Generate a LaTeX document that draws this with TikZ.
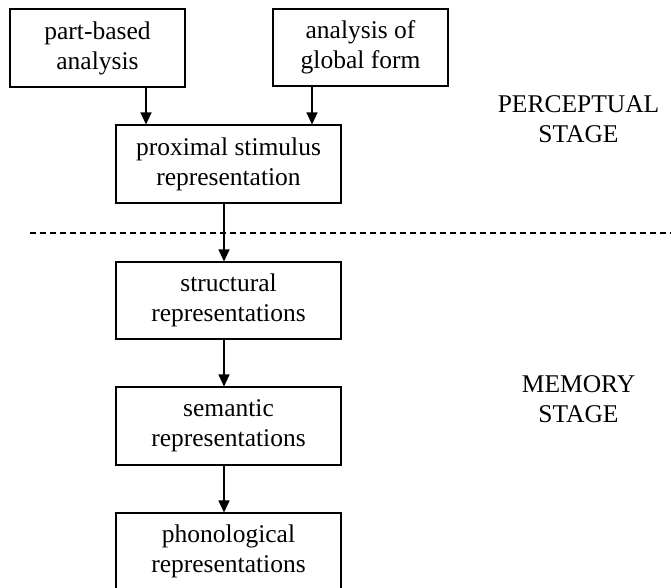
\documentclass[tikz,border=0pt]{standalone}
\usepackage{fontspec}
\setmainfont{Liberation Serif}
\usetikzlibrary{arrows.meta}
\begin{document}
\begin{tikzpicture}[x=1pt,y=-1pt,
  box/.style={draw, line width=1.1pt, inner sep=0pt, align=center,
    font=\fontsize{25.5}{30}\selectfont},
  lbl/.style={inner sep=0pt, align=center, font=\fontsize{25.5}{30}\selectfont},
  arr/.style={line width=1.1pt, -{Triangle[length=12pt,width=11pt]}},
  sep/.style={line width=1.1pt, dash pattern=on 6pt off 4pt}]
\useasboundingbox (0,0) rectangle (671,587);
\clip (0,0) rectangle (671,587);
\fill[white] (0,0) rectangle (671,587);
% boxes
\node[box, minimum width=175pt, minimum height=78pt] (pb) at (97.5,48) {part-based\\analysis};
\node[box, minimum width=175pt, minimum height=77pt] (gf) at (360.5,47.5) {analysis of\\global form};
\node[box, minimum width=225pt, minimum height=78pt] (prox) at (228.5,164) {proximal stimulus\\representation};
\node[box, minimum width=225pt, minimum height=77pt] (struct) at (228.5,300.5) {structural\\representations};
\node[box, minimum width=225pt, minimum height=78pt] (sem) at (228.5,426) {semantic\\representations};
\node[box, minimum width=225pt, minimum height=77pt] (phon) at (228.5,551.5) {phonological\\representations};
% stage labels
\node[lbl] (perc) at (578.5,119.5) {PERCEPTUAL\\STAGE};
\node[lbl] (mem) at (578.5,399.5) {MEMORY\\STAGE};
% separator
\coordinate (sepL) at (30,233);
\coordinate (sepR) at (671,233);
\draw[sep] (sepL) -- (sepR);
% arrows
\draw[arr] (146,0 |- pb.south) -- (146,0 |- prox.north);
\draw[arr] (312,0 |- gf.south) -- (312,0 |- prox.north);
\draw[arr] (224,0 |- prox.south) -- (224,0 |- struct.north);
\draw[arr] (224,0 |- struct.south) -- (224,0 |- sem.north);
\draw[arr] (224,0 |- sem.south) -- (224,0 |- phon.north);
\end{tikzpicture}
\end{document}
